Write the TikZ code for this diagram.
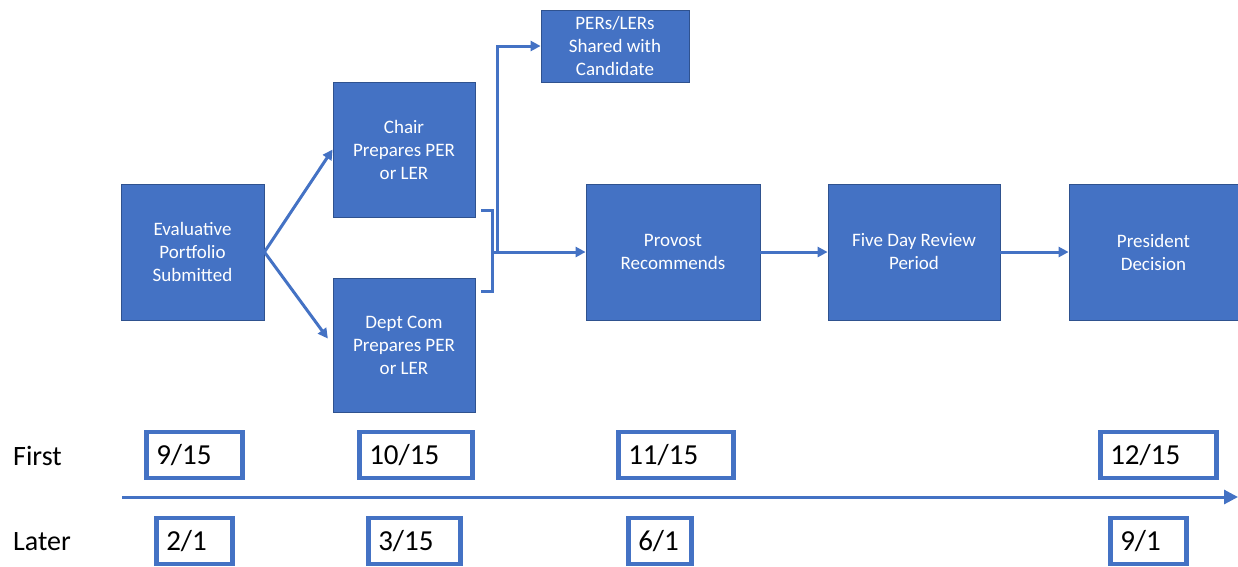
\documentclass[tikz,border=0pt]{standalone}
\usepackage{fontspec}
\setmainfont{Carlito}
\usetikzlibrary{arrows.meta}
\definecolor{boxblue}{HTML}{4472C4}
\definecolor{edgeblue}{HTML}{2F528F}
\tikzset{
  stage/.style={draw=edgeblue, line width=0.8pt, fill=boxblue, text=white,
    align=center, inner sep=0pt, font=\fontsize{19}{23}\selectfont},
  flow/.style={draw=boxblue, line width=3pt, -{Triangle[length=10pt,width=10pt]}},
  bracket/.style={draw=boxblue, line width=3pt},
  datebox/.style={draw=boxblue, line width=4.5pt, fill=white, anchor=west,
    minimum height=46pt, inner xsep=10pt, inner ysep=0pt, align=left,
    font=\fontsize{29}{32}\selectfont},
  rowlabel/.style={anchor=west, inner sep=0pt, font=\fontsize{28}{30}\selectfont}
}
\begin{document}
\begin{tikzpicture}[x=1pt,y=-1pt]
      \useasboundingbox (0,0) rectangle (1238,566);
      \node[stage, minimum width=143pt, minimum height=136pt] (eval) at (192.5,252) {Evaluative\\Portfolio\\Submitted};
      \node[stage, minimum width=142pt, minimum height=135pt] (chair) at (404,149.5) {Chair\\Prepares PER\\or LER};
      \node[stage, minimum width=142pt, minimum height=134pt] (dept) at (404,345) {Dept Com\\Prepares PER\\or LER};
      \node[stage, minimum width=148pt, minimum height=72pt] (shared) at (615,46) {PERs/LERs\\Shared with\\Candidate};
      \node[stage, minimum width=174pt, minimum height=136pt] (provost) at (673,252) {Provost\\Recommends};
      \node[stage, minimum width=172pt, minimum height=136pt] (review) at (914,252) {Five Day Review\\Period};
      \node[stage, minimum width=169pt, minimum height=136pt] (president) at (1153.5,252) {President\\Decision};
      \coordinate (join) at (492,252);
      \coordinate (start) at (122,497);
      \coordinate (end) at (1238,497);
      \begin{scope}
        \draw[flow] (eval.east) -- (chair.west);
        \draw[flow, shorten >=8pt] (eval.east) -- (dept.west);
        \draw[bracket] ([xshift=6pt,yshift=7pt]chair.south east) -| (join) |- ([xshift=6pt,yshift=-14pt]dept.north east);
        \draw[flow] (join) -- (provost.west);
        \draw[flow] ([xshift=5pt]join) |- (shared.west);
        \draw[flow] (provost.east) -- (review.west);
        \draw[flow] (review.east) -- (president.west);
        \draw[flow, -{Triangle[length=14pt,width=14pt]}] (start) -- (end);
      \end{scope}
      \node[rowlabel] (first) at (13,456) {First};
      \node[rowlabel] (later) at (13,542) {Later};
      \node[datebox, text width=76pt] (f1) at (144,455) {9/15};
      \node[datebox, text width=93pt] (f2) at (357,455) {10/15};
      \node[datebox, text width=95pt] (f3) at (616,455) {11/15};
      \node[datebox, text width=96pt] (f4) at (1098,455) {12/15};
      \node[datebox, text width=56pt] (l1) at (154,541) {2/1};
      \node[datebox, text width=72pt] (l2) at (366,541) {3/15};
      \node[datebox, text width=43pt] (l3) at (626,541) {6/1};
      \node[datebox, text width=56pt] (l4) at (1108,541) {9/1};
    \end{tikzpicture}
\end{document}
